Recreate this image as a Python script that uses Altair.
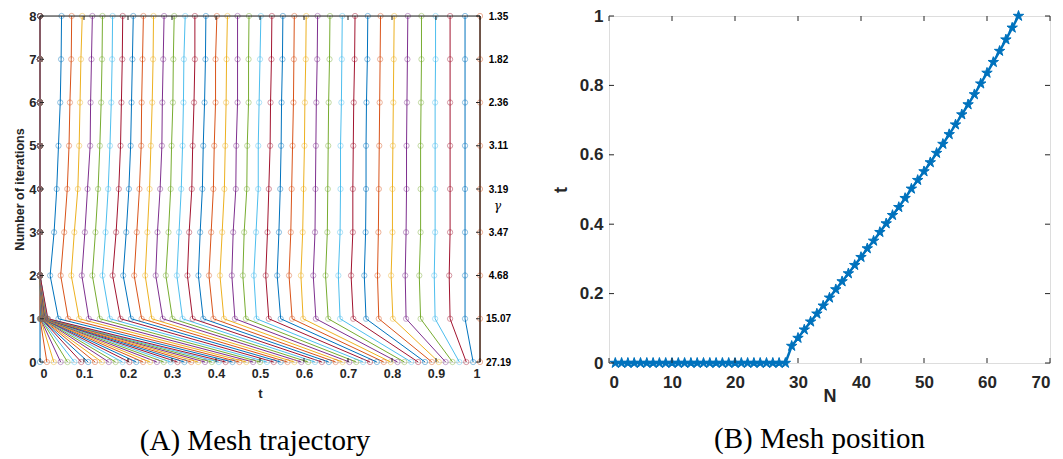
import altair as alt
import pandas as pd

# ---------------- data ----------------
ITERS = [0, 1, 2, 3, 4, 5, 6, 7, 8]
GAMMA = ["27.19", "15.07", "4.68", "3.47", "3.19", "3.11", "2.36", "1.82", "1.35"]
COLORS = ["#0072BD", "#D95319", "#EDB120", "#7E2F8E", "#77AC30", "#4DBEEE", "#A2142F"]

# uniform initial mesh (65 nodes)
it0 = [0.0, 0.0156, 0.0313, 0.0469, 0.0625, 0.0781, 0.0938, 0.1094, 0.125, 0.1406,
       0.1563, 0.1719, 0.1875, 0.2031, 0.2188, 0.2344, 0.25, 0.2656, 0.2813, 0.2969,
       0.3125, 0.3281, 0.3438, 0.3594, 0.375, 0.3906, 0.4063, 0.4219, 0.4375, 0.4531,
       0.4688, 0.4844, 0.5, 0.5156, 0.5313, 0.5469, 0.5625, 0.5781, 0.5938, 0.6094,
       0.625, 0.6406, 0.6563, 0.6719, 0.6875, 0.7031, 0.7188, 0.7344, 0.75, 0.7656,
       0.7813, 0.7969, 0.8125, 0.8281, 0.8438, 0.8594, 0.875, 0.8906, 0.9063, 0.9219,
       0.9375, 0.9531, 0.9688, 0.9844, 1.0]

# nodes 1..28 after the first iteration (clustered at the left boundary)
it1_left = [0.0, 0.0, 0.001, 0.001, 0.002, 0.002, 0.003, 0.003, 0.004, 0.004,
            0.005, 0.005, 0.006, 0.006, 0.007, 0.008, 0.008, 0.009, 0.010, 0.011,
            0.011, 0.012, 0.013, 0.014, 0.015, 0.016, 0.017, 0.018]
ZEROS28 = [0.0] * 28

# nodes 29..64 for iterations 1..8
it1_r = [0.042, 0.064, 0.089, 0.111, 0.136, 0.159, 0.183, 0.207, 0.231, 0.254, 0.279, 0.301,
         0.324, 0.347, 0.371, 0.394, 0.418, 0.443, 0.468, 0.492, 0.520, 0.547, 0.573, 0.598,
         0.627, 0.655, 0.682, 0.712, 0.741, 0.770, 0.802, 0.832, 0.865, 0.898, 0.932, 0.966]
it2_r = [0.023, 0.047, 0.071, 0.095, 0.119, 0.142, 0.165, 0.189, 0.214, 0.239, 0.263, 0.286,
         0.311, 0.335, 0.360, 0.384, 0.409, 0.436, 0.461, 0.486, 0.513, 0.539, 0.566, 0.593,
         0.621, 0.649, 0.678, 0.707, 0.737, 0.767, 0.798, 0.830, 0.862, 0.896, 0.930, 0.966]
it3_r = [0.032, 0.055, 0.078, 0.102, 0.126, 0.149, 0.173, 0.196, 0.220, 0.244, 0.267, 0.292,
         0.316, 0.339, 0.364, 0.389, 0.414, 0.439, 0.464, 0.491, 0.517, 0.543, 0.570, 0.597,
         0.625, 0.653, 0.682, 0.711, 0.740, 0.769, 0.801, 0.832, 0.865, 0.898, 0.932, 0.966]
it4_r = [0.038, 0.062, 0.086, 0.108, 0.132, 0.155, 0.179, 0.202, 0.226, 0.249, 0.273, 0.297,
         0.321, 0.345, 0.369, 0.394, 0.419, 0.445, 0.470, 0.496, 0.520, 0.546, 0.572, 0.599,
         0.626, 0.654, 0.683, 0.711, 0.741, 0.770, 0.801, 0.833, 0.865, 0.898, 0.932, 0.966]
it5_r = [0.042, 0.066, 0.089, 0.114, 0.136, 0.159, 0.183, 0.206, 0.230, 0.252, 0.277, 0.299,
         0.324, 0.347, 0.371, 0.396, 0.421, 0.446, 0.471, 0.496, 0.523, 0.548, 0.574, 0.601,
         0.627, 0.655, 0.683, 0.712, 0.741, 0.771, 0.802, 0.833, 0.865, 0.898, 0.932, 0.966]
it6_r = [0.046, 0.068, 0.091, 0.115, 0.139, 0.162, 0.185, 0.208, 0.231, 0.255, 0.278, 0.302,
         0.326, 0.350, 0.374, 0.399, 0.423, 0.449, 0.474, 0.498, 0.524, 0.549, 0.576, 0.602,
         0.628, 0.656, 0.685, 0.713, 0.742, 0.772, 0.803, 0.834, 0.866, 0.898, 0.932, 0.966]
it7_r = [0.048, 0.071, 0.093, 0.117, 0.141, 0.164, 0.187, 0.210, 0.233, 0.257, 0.280, 0.303,
         0.327, 0.352, 0.376, 0.399, 0.424, 0.449, 0.474, 0.500, 0.526, 0.551, 0.577, 0.604,
         0.630, 0.658, 0.686, 0.715, 0.744, 0.773, 0.804, 0.835, 0.867, 0.899, 0.932, 0.966]
it8_r = [0.049, 0.072, 0.096, 0.119, 0.142, 0.165, 0.188, 0.212, 0.235, 0.258, 0.282, 0.305,
         0.330, 0.352, 0.377, 0.402, 0.426, 0.449, 0.475, 0.502, 0.527, 0.552, 0.578, 0.605,
         0.631, 0.659, 0.687, 0.716, 0.745, 0.774, 0.805, 0.836, 0.867, 0.899, 0.932, 0.966]

ITER_POS = [
    it0,
    it1_left + it1_r + [1.0],
    ZEROS28 + it2_r + [1.0],
    ZEROS28 + it3_r + [1.0],
    ZEROS28 + it4_r + [1.0],
    ZEROS28 + it5_r + [1.0],
    ZEROS28 + it6_r + [1.0],
    ZEROS28 + it7_r + [1.0],
    ZEROS28 + it8_r + [1.0],
]

# final mesh position (panel B)
N_NODES = list(range(1, 66))
FINAL_T = ZEROS28 + it8_r + [1.0]

XT_A = [0, 0.1, 0.2, 0.3, 0.4, 0.5, 0.6, 0.7, 0.8, 0.9, 1]
YT_A = ITERS
XT_B = [0, 10, 20, 30, 40, 50, 60, 70]
YT_B = [0, 0.2, 0.4, 0.6, 0.8, 1]

# ---------------- tables ----------------
rows = []
for k, arr in zip(ITERS, ITER_POS):
    for j, t in enumerate(arr):
        rows.append({"node": j + 1, "iter": k, "t": t, "c": j % 7})
traj = pd.DataFrame(rows)
meshB = pd.DataFrame({"N": N_NODES, "t": FINAL_T})
one = pd.DataFrame({"k": [0]})

FONT = "Liberation Sans"
TXT = "#262626"
WA, HA = 440, 346
WB, HB = 441, 347
TL = 4  # inward tick length

xA = alt.Scale(domain=[0, 1], nice=False, zero=False)
yA = alt.Scale(domain=[0, 8], nice=False, zero=False)
xB = alt.Scale(domain=[0, 70], nice=False, zero=False)
yB = alt.Scale(domain=[0, 1], nice=False, zero=False)

col = alt.Color("c:N", scale=alt.Scale(domain=list(range(7)), range=COLORS), legend=None)

lab_kw = dict(domain=False, ticks=False, grid=False, labelFont=FONT,
              labelFontWeight="bold", labelColor=TXT, titleFont=FONT,
              titleFontWeight="bold", titleColor=TXT)

# ---------------- panel A ----------------
lines = alt.Chart(traj).mark_line(strokeWidth=1).encode(
    x=alt.X("t:Q", scale=xA, axis=alt.Axis(values=XT_A, format="~g", title="t",
                                            labelFontSize=12.5, titleFontSize=13,
                                            labelPadding=5, titlePadding=8, **lab_kw)),
    y=alt.Y("iter:Q", scale=yA, axis=alt.Axis(values=YT_A, title="Number of iterations",
                                               labelFontSize=13, titleFontSize=12.5,
                                               labelPadding=4, titlePadding=2, **lab_kw)),
    detail="node:N",
    order="iter:Q",
    color=col,
)
circles = alt.Chart(traj).mark_point(shape="circle", filled=False, size=28,
                                     strokeWidth=0.8, opacity=0.55).encode(
    x=alt.X("t:Q", scale=xA, axis=None),
    y=alt.Y("iter:Q", scale=yA, axis=None),
    color=col,
)

xtA = pd.DataFrame({"v": XT_A})
ytA = pd.DataFrame({"v": YT_A, "g": GAMMA})
g_expr = "[" + ",".join("'" + g + "'" for g in GAMMA) + "][datum.value]"

tick_bot = alt.Chart(xtA).mark_rule(color=TXT, strokeWidth=1).encode(
    x=alt.X("v:Q", scale=xA, axis=None), y=alt.value(HA), y2=alt.value(HA - TL))
tick_top = alt.Chart(xtA).mark_rule(color=TXT, strokeWidth=1).encode(
    x=alt.X("v:Q", scale=xA, axis=None), y=alt.value(0), y2=alt.value(TL))
tick_left = alt.Chart(ytA).mark_rule(color=TXT, strokeWidth=1).encode(
    y=alt.Y("v:Q", scale=yA, axis=None), x=alt.value(0), x2=alt.value(TL))
tick_right = alt.Chart(ytA).mark_rule(color=TXT, strokeWidth=1).encode(
    y=alt.Y("v:Q", scale=yA,
            axis=alt.Axis(orient="right", values=YT_A, labelExpr=g_expr, title="γ",
                          labelFontSize=10, labelAlign="center", labelPadding=18,
                          titleAngle=0, titleX=17, titleY=196, titleFont="DejaVu Serif",
                          titleFontStyle="italic", titleFontWeight="normal",
                          titleFontSize=12, titleColor="black",
                          domain=False, ticks=False, grid=False, labelFont=FONT,
                          labelFontWeight="bold", labelColor="black")),
    x=alt.value(WA), x2=alt.value(WA - TL))
# right/top frame edges drawn above the data, as in the reference
edge_right = alt.Chart(one).mark_rule(color=TXT, strokeWidth=1.2).encode(
    x=alt.value(WA), y=alt.value(0), y2=alt.value(HA))
edge_top = alt.Chart(one).mark_rule(color=TXT, strokeWidth=1.2).encode(
    x=alt.value(0), x2=alt.value(WA), y=alt.value(0))

panelA = alt.layer(lines, circles, tick_bot, tick_top, tick_left, tick_right,
                   edge_right, edge_top).resolve_axis(
    x="independent", y="independent").properties(
    width=WA, height=HA,
    title=alt.TitleParams("(A) Mesh trajectory", orient="bottom", anchor="middle",
                          font="Liberation Serif", fontSize=29, fontWeight="normal",
                          color="black", offset=26, dx=-5))

# ---------------- panel B ----------------
STAR = ("M0,-1L0.225,-0.309L0.951,-0.309L0.363,0.118L0.588,0.809L0,0.382"
        "L-0.588,0.809L-0.363,0.118L-0.951,-0.309L-0.225,-0.309Z")

lineB = alt.Chart(meshB).mark_line(color="#0072BD", strokeWidth=2.5).encode(
    x=alt.X("N:Q", scale=xB, axis=alt.Axis(values=XT_B, title="N", labelFontSize=17,
                                            titleFontSize=18, labelPadding=11,
                                            titlePadding=-3, **lab_kw)),
    y=alt.Y("t:Q", scale=yB, axis=alt.Axis(values=YT_B, format="~g", title="t",
                                            labelFontSize=17, titleFontSize=18,
                                            labelPadding=6, titlePadding=9, **lab_kw)),
)
starsB = alt.Chart(meshB).mark_point(shape=STAR, filled=True, size=120, color="#0072BD",
                                     opacity=1, stroke="#0072BD", strokeWidth=1).encode(
    x=alt.X("N:Q", scale=xB, axis=None),
    y=alt.Y("t:Q", scale=yB, axis=None),
)
xtB = pd.DataFrame({"v": XT_B})
ytB = pd.DataFrame({"v": YT_B})
tb_bot = alt.Chart(xtB).mark_rule(color=TXT, strokeWidth=1).encode(
    x=alt.X("v:Q", scale=xB, axis=None), y=alt.value(HB), y2=alt.value(HB - 5))
tb_top = alt.Chart(xtB).mark_rule(color=TXT, strokeWidth=1).encode(
    x=alt.X("v:Q", scale=xB, axis=None), y=alt.value(0), y2=alt.value(5))
tb_left = alt.Chart(ytB).mark_rule(color=TXT, strokeWidth=1).encode(
    y=alt.Y("v:Q", scale=yB, axis=None), x=alt.value(0), x2=alt.value(5))
tb_right = alt.Chart(ytB).mark_rule(color=TXT, strokeWidth=1).encode(
    y=alt.Y("v:Q", scale=yB, axis=None), x=alt.value(WB), x2=alt.value(WB - 5))

panelB = alt.layer(lineB, starsB, tb_bot, tb_top, tb_left, tb_right).resolve_axis(
    x="independent", y="independent").properties(
    width=WB, height=HB,
    title=alt.TitleParams("(B) Mesh position", orient="bottom", anchor="middle",
                          font="Liberation Serif", fontSize=29, fontWeight="normal",
                          color="black", offset=20, dx=-10))

chart = alt.hconcat(panelA, panelB, spacing=39).properties(
    padding={"left": 5, "top": -2, "right": 0, "bottom": 0}
).configure_view(stroke=TXT, strokeWidth=1.2).configure(background="white")

chart.save("out.html", embed_options={"renderer": "svg", "actions": False})
